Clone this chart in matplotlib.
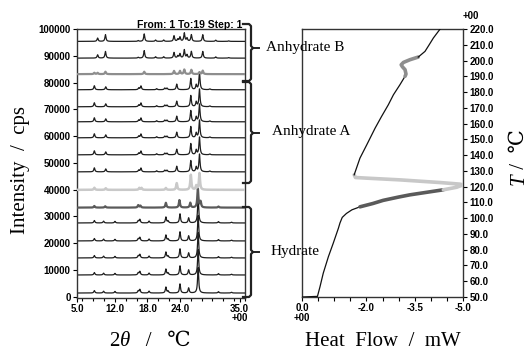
import numpy as np
import matplotlib
matplotlib.use("Agg")
import matplotlib.pyplot as plt
from matplotlib.lines import Line2D
from matplotlib.ticker import MultipleLocator, FixedLocator

W, H = 529, 354
SERIF = ['Liberation Serif', 'DejaVu Serif', 'DejaVu Sans']
SANS = ['Liberation Sans', 'DejaVu Sans']

# ---------------- XRD data ----------------
two_theta_ticks = [5.0, 12.0, 18.0, 24.0, 35.0]
intensity_ticks = [0, 10000, 20000, 30000, 40000, 50000, 60000, 70000, 80000, 90000, 100000]

# baseline offsets of the 16 visible patterns (bottom -> top)
baselines = [1380, 8120, 14480, 20840, 27550, 33290, 39920, 46640,
             53000, 59360, 65340, 70950, 77310, 83140, 89120, 95370]
phases = ['H', 'H', 'H', 'H', 'H', 'T', 'L', 'A', 'A', 'A', 'A', 'A', 'A', 'G', 'B', 'B']

# peak lists: positions (2theta) and heights (cps)
hyd_pos = [8.2, 9.9, 12.0, 16.3, 16.6, 18.3, 21.4, 21.8, 24.0, 25.6, 27.35, 31.1, 33.5]
hyd_hgt = [900, 700, 600, 800, 1300, 700, 2200, 700, 3400, 1900, 9500, 500, 300]

trans_pos = [8.2, 10.2, 16.3, 16.7, 21.4, 23.9, 25.9, 27.3, 27.8, 31.1]
trans_hgt = [600, 500, 900, 700, 1800, 2800, 1800, 7000, 2200, 400]

light_pos = [8.2, 10.3, 16.5, 16.9, 21.4, 23.4, 26.0, 27.0, 27.6]
light_hgt = [800, 600, 700, 700, 700, 2500, 5600, 1500, 6200]

anhA_pos = [8.2, 10.3, 16.4, 16.8, 19.7, 21.2, 21.6, 23.4, 26.0, 27.0, 27.6, 29.5]
anhA_hgt = [1500, 1100, 700, 1400, 400, 600, 600, 2100, 4200, 1800, 6600, 300]

anhB_pos = [8.8, 10.25, 16.3, 17.4, 19.5, 21.0, 22.9, 23.6, 24.0, 24.8, 25.3, 26.1, 28.2, 30.6, 33.0]
anhB_hgt = [1250, 2500, 300, 2800, 500, 500, 2100, 800, 1600, 3100, 1200, 2500, 2500, 450, 200]

gray_pos = [8.2, 8.8, 10.25, 17.4, 22.9, 24.0, 24.8, 26.1, 27.6, 28.2]
gray_hgt = [500, 500, 900, 900, 1200, 1200, 1700, 1600, 700, 1300]

peak_sets = {'H': (hyd_pos, hyd_hgt), 'T': (trans_pos, trans_hgt), 'L': (light_pos, light_hgt),
             'A': (anhA_pos, anhA_hgt), 'B': (anhB_pos, anhB_hgt), 'G': (gray_pos, gray_hgt)}
phase_color = {'H': '#1e1e1e', 'T': '#5a5a5a', 'L': '#c9c9c9', 'A': '#1e1e1e', 'B': '#1e1e1e', 'G': '#8e8e8e'}
phase_lw = {'H': 0.9, 'T': 1.6, 'L': 1.8, 'A': 0.9, 'B': 0.9, 'G': 1.6}

# ---------------- DSC data (heat flow mW, T degC) ----------------
dsc_black1_hf = [0.0, -0.48, -0.56, -0.66, -0.82, -0.97, -1.13, -1.18, -1.25, -1.38, -1.55, -1.80]
dsc_black1_T = [50.0, 50.4, 56.6, 65.1, 75.6, 84.1, 93.6, 97.0, 100.5, 103.0, 105.3, 107.2]
dsc_dark_hf = [-1.80, -2.2, -2.52, -3.0, -3.35, -3.9, -4.39]
dsc_dark_T = [107.2, 109.3, 111.3, 113.4, 114.8, 116.5, 118.0]
dsc_light_hf = [-4.39, -4.8, -5.0, -4.9, -4.29, -3.04, -2.0, -1.66, -1.62]
dsc_light_T = [118.0, 119.6, 121.1, 121.6, 122.6, 124.3, 125.4, 125.8, 127.5]
dsc_black2_hf = [-1.62, -1.80, -2.01, -2.27, -2.47, -2.68, -2.84, -3.04, -3.20]
dsc_black2_T = [127.5, 138.1, 146.5, 157.1, 164.5, 171.9, 178.3, 184.6, 190.0]
dsc_gray_hf = [-3.20, -3.23, -3.20, -3.12, -3.08, -3.15, -3.35, -3.61]
dsc_gray_T = [190.0, 191.4, 194.2, 196.0, 197.3, 198.8, 200.5, 202.2]
dsc_black3_hf = [-3.61, -3.82, -3.95, -4.08, -4.29]
dsc_black3_T = [202.2, 205.8, 210.0, 214.3, 220.0]

hf_ticks = [0.0, -2.0, -3.5, -5.0]
T_ticks = list(range(50, 221, 10))

fig = plt.figure(figsize=(W / 100, H / 100), dpi=100)
fig.patch.set_facecolor('white')


def fx(x):
    return x / W


def fy(y):
    return 1 - y / H


tick_font = dict(family=SANS, weight='bold', size=7)

# ---------------- left panel ----------------
ax1 = fig.add_axes([fx(77), fy(298), 168 / W, 269 / H])
x = np.linspace(5, 36, 3000)
gam = 0.12
for i in range(len(baselines)):
    ph = phases[i]
    pos, hgt = peak_sets[ph]
    y = np.full_like(x, baselines[i])
    for p, h in zip(pos, hgt):
        y += h * gam ** 2 / ((x - p) ** 2 + gam ** 2)
    z = 3 if ph in ('T', 'L', 'G') else 2
    ax1.plot(x, y, color=phase_color[ph], lw=phase_lw[ph], zorder=z, solid_joinstyle='round')
ax1.set_xlim(5, 36)
ax1.set_ylim(-480, 100000)
ax1.xaxis.set_major_locator(FixedLocator(two_theta_ticks))
ax1.set_xticklabels([f'{v:.1f}' for v in two_theta_ticks])
ax1.xaxis.set_minor_locator(MultipleLocator(2))
ax1.yaxis.set_major_locator(FixedLocator(intensity_ticks))
ax1.set_yticklabels([str(v) for v in intensity_ticks])
ax1.tick_params(axis='both', which='major', length=3, width=0.8, pad=1.5, direction='out')
ax1.tick_params(axis='x', which='minor', length=2, width=0.8, direction='out')
for lab in ax1.get_xticklabels() + ax1.get_yticklabels():
    lab.set_fontproperties(matplotlib.font_manager.FontProperties(**tick_font))
for s in ax1.spines.values():
    s.set_linewidth(1.0)
    s.set_color('#333333')

# ---------------- right panel ----------------
ax2 = fig.add_axes([fx(302), fy(297), 161 / W, 268 / H])
ax2.plot(dsc_black1_hf, dsc_black1_T, color='#111111', lw=0.9, zorder=3)
ax2.plot(dsc_dark_hf, dsc_dark_T, color='#5a5a5a', lw=2.6, zorder=3, solid_capstyle='round')
ax2.plot(dsc_light_hf, dsc_light_T, color='#c8c8c8', lw=2.6, zorder=3, solid_capstyle='round')
ax2.plot(dsc_black2_hf, dsc_black2_T, color='#111111', lw=0.9, zorder=3)
ax2.plot(dsc_gray_hf, dsc_gray_T, color='#8e8e8e', lw=2.6, zorder=3, solid_capstyle='round')
ax2.plot(dsc_black3_hf, dsc_black3_T, color='#111111', lw=0.9, zorder=3)
ax2.set_xlim(0, -5)
ax2.set_ylim(50, 220)
ax2.xaxis.set_major_locator(FixedLocator(hf_ticks))
ax2.set_xticklabels([f'{v:.1f}' for v in hf_ticks])
ax2.xaxis.set_minor_locator(MultipleLocator(0.5))
ax2.yaxis.tick_right()
ax2.yaxis.set_major_locator(FixedLocator(T_ticks))
ax2.set_yticklabels([f'{v:.1f}' for v in T_ticks])
ax2.tick_params(axis='both', which='major', length=3, width=0.8, pad=1.5, direction='out')
ax2.tick_params(axis='x', which='minor', length=3, width=0.8, direction='out')
for lab in ax2.get_xticklabels() + ax2.get_yticklabels():
    lab.set_fontproperties(matplotlib.font_manager.FontProperties(**tick_font))
for s in ax2.spines.values():
    s.set_linewidth(1.0)
    s.set_color('#333333')

# "+00" exponent-like labels
for (px, py) in [(240, 318), (302, 318), (471, 16)]:
    fig.text(fx(px), fy(py), '+00', ha='center', va='center', **tick_font)

fig.text(fx(242), fy(24.5), 'From: 1 To:19 Step: 1', ha='right', va='center',
         family=SANS, weight='bold', size=7.5)


# braces
def brace(y0, y1, ym, xs=251, xl=243, xt=259):
    pts = [(xl, y0), (xs - 2, y0), (xs, y0 + 2), (xs, ym - 2), (xs + 2, ym),
           (xs, ym + 2), (xs, y1 - 2), (xs - 2, y1), (xl, y1)]
    fig.add_artist(Line2D([fx(p[0]) for p in pts], [fy(p[1]) for p in pts],
                          transform=fig.transFigure, color='#222222', lw=1.6,
                          solid_joinstyle='round'))
    fig.add_artist(Line2D([fx(xs + 2), fx(xt)], [fy(ym), fy(ym)],
                          transform=fig.transFigure, color='#222222', lw=1.4))


brace(24, 81, 48)
brace(82, 183, 133)
brace(207, 297, 252)

fig.text(fx(266), fy(47), 'Anhydrate B', ha='left', va='center', family=SERIF, size=11)
fig.text(fx(272), fy(132), 'Anhydrate A', ha='left', va='center', family=SERIF, size=11)
fig.text(fx(271), fy(251), 'Hydrate', ha='left', va='center', family=SERIF, size=11)


# axis titles built from pieces (to allow italic symbols)
def place_pieces(cx, cy, pieces, size, rotation=0):
    r = fig.canvas.get_renderer()
    ws = []
    for s, st in pieces:
        t = fig.text(0, 0, s, fontsize=size, family=SERIF, style=st)
        ws.append(t.get_window_extent(r).width)
        t.remove()
    total = sum(ws)
    if rotation == 0:
        xx = cx - total / 2
        for (s, st), w in zip(pieces, ws):
            fig.text(fx(xx), fy(cy), s, fontsize=size, family=SERIF, style=st,
                     ha='left', va='center')
            xx += w
    else:
        yy = cy + total / 2
        for (s, st), w in zip(pieces, ws):
            fig.text(fx(cx), fy(yy), s, fontsize=size, family=SERIF, style=st,
                     ha='center', va='bottom', rotation=90)
            yy -= w


place_pieces(150, 341, [('2', 'normal'), ('θ', 'italic'), ('   /   ℃', 'normal')], 15)
place_pieces(383, 341, [('Heat  Flow  /  mW', 'normal')], 15)
place_pieces(21, 170, [('Intensity  /  cps', 'normal')], 15, rotation=90)
place_pieces(519, 157, [('T', 'italic'), (' /  ℃', 'normal')], 15, rotation=90)

fig.savefig('out.png', dpi=100, facecolor='white')
